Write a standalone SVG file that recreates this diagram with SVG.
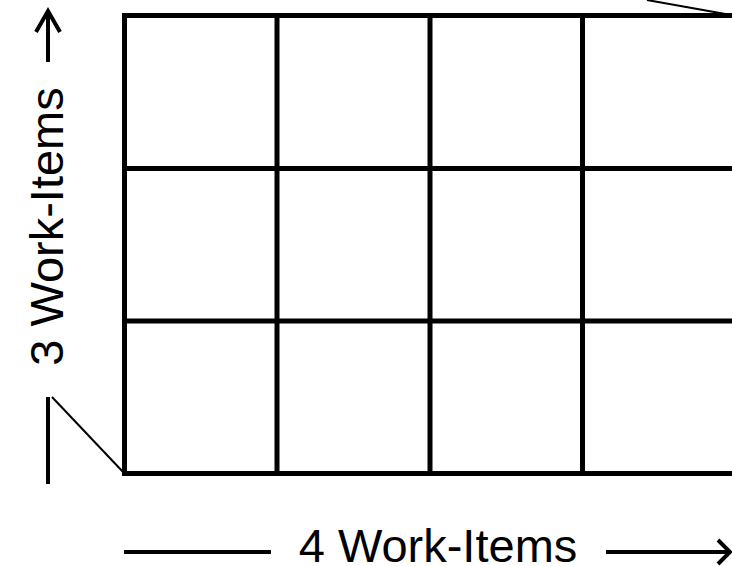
<svg xmlns="http://www.w3.org/2000/svg" width="732" height="566" viewBox="0 0 732 566">
<style>
.grid{stroke:#000;stroke-width:5;fill:none;stroke-linecap:square}
.thin{stroke:#000;stroke-width:2;fill:none}
.axis{stroke:#000;stroke-width:4;fill:none}
.lbl{font-family:"Liberation Sans",Arial,sans-serif;font-size:47px;fill:#000}
</style>
<rect width="732" height="566" fill="#fff"/>
<g id="grid">
<path class="grid" d="M124.5,15.5H735M124.5,168.5H735M124.5,321H735M124.5,473.5H735M124.5,15.5V473.5M277,15.5V473.5M430,15.5V473.5M582.5,15.5V473.5"/>
</g>
<g id="connectors">
<path class="thin" d="M647,0L731,15"/>
<path class="thin" d="M52,397L124,473"/>
<path class="axis" d="M48,397V484"/>
<path class="axis" d="M48,62V12M36,32L48,11L60,32"/>
<path class="axis" d="M124,552H271M606,552H730M718,540L730,552L718,564"/>
</g>
<g id="label-x"><text class="lbl" x="438" y="562" text-anchor="middle">4 Work-Items</text></g>
<g id="label-y"><text class="lbl" transform="translate(63,226.5) rotate(-90)" text-anchor="middle">3 Work-Items</text></g>
</svg>
